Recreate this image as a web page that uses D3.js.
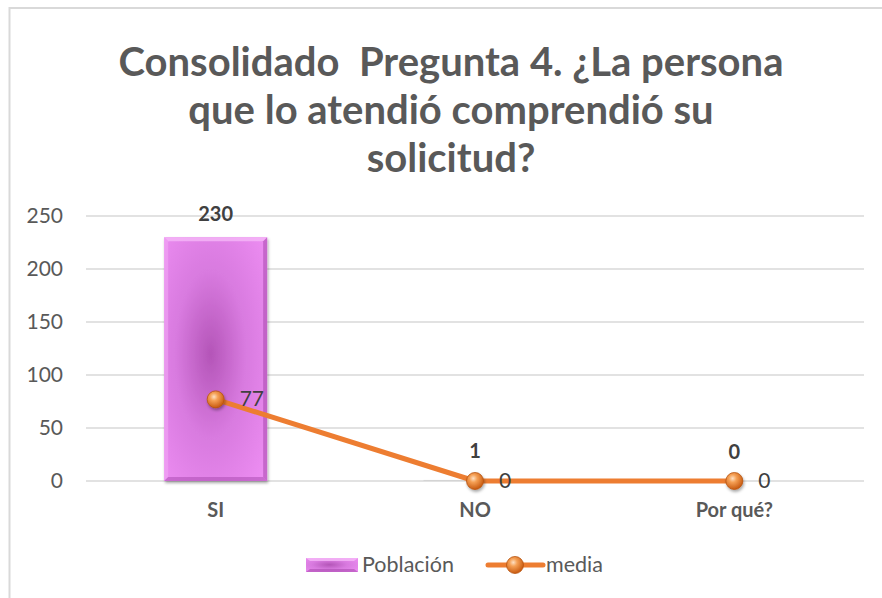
<!DOCTYPE html>
<html><head><meta charset="utf-8">
<script src="https://cdn.jsdelivr.net/npm/d3@7"></script>
<style>html,body{margin:0;padding:0;background:#fff;}svg{display:block;}text{white-space:pre;}</style>
</head><body>
<script>
const categories = ["SI", "NO", "Por qué?"];
const poblacion = [230, 1, 0];
const media = [77, 0, 0];
const yTicks = [0, 50, 100, 150, 200, 250];
const titleLines = ["Consolidado  Pregunta 4. ¿La persona", "que lo atendió comprendió su", "solicitud?"];
const seriesNames = ["Población", "media"];

const W = 882, H = 598;
const svg = d3.select("body").append("svg").attr("width", W).attr("height", H);
const defs = svg.append("defs");
const FONT = "Lato, 'Open Sans', sans-serif";

const rg = defs.append("radialGradient").attr("id", "barGrad").attr("cx", "45%").attr("cy", "48%").attr("r", "75%");
rg.append("stop").attr("offset", "0%").attr("stop-color", "#b455b8");
rg.append("stop").attr("offset", "45%").attr("stop-color", "#d87adf");
rg.append("stop").attr("offset", "100%").attr("stop-color", "#ef8ff4");

const mg = defs.append("radialGradient").attr("id", "markGrad").attr("cx", "40%").attr("cy", "35%").attr("r", "65%");
mg.append("stop").attr("offset", "0%").attr("stop-color", "#fde0c4");
mg.append("stop").attr("offset", "35%").attr("stop-color", "#f5a055");
mg.append("stop").attr("offset", "100%").attr("stop-color", "#c85a10");

const sh = defs.append("filter").attr("id", "shadow").attr("x", "-50%").attr("y", "-50%").attr("width", "200%").attr("height", "200%");
sh.append("feDropShadow").attr("dx", 1).attr("dy", 2).attr("stdDeviation", 1.5).attr("flood-color", "#000").attr("flood-opacity", 0.35);

// chart frame
svg.append("rect").attr("x", 9.5).attr("y", 8).attr("width", 900).attr("height", 620)
  .attr("fill", "none").attr("stroke", "#d9d9d9").attr("stroke-width", 2);

// title
const title = svg.append("text").attr("text-anchor", "middle")
  .attr("font-family", FONT).attr("font-weight", "bold")
  .attr("font-size", 40).attr("fill", "#595959");
titleLines.forEach((t, i) => {
  title.append("tspan").attr("x", 451).attr("y", 76 + i * 48).text(t);
});

const plot = {left: 86, right: 864, top: 216, bottom: 481};
const x = d3.scaleBand().domain(categories).range([plot.left, plot.right]);
const y = d3.scaleLinear().domain([0, 250]).range([plot.bottom, plot.top]);

// gridlines
svg.append("g").selectAll("line").data(yTicks).join("line")
  .attr("x1", plot.left).attr("x2", plot.right)
  .attr("y1", d => y(d)).attr("y2", d => y(d))
  .attr("stroke", "#d9d9d9").attr("stroke-width", 1.3);

// y axis
const yAxis = svg.append("g").attr("transform", `translate(${plot.left},0)`)
  .call(d3.axisLeft(y).tickValues(yTicks).tickSize(0).tickPadding(23));
yAxis.select(".domain").remove();
yAxis.selectAll("text").attr("font-family", FONT).attr("font-size", 21).attr("fill", "#595959");

// x axis
const xAxis = svg.append("g").attr("transform", `translate(0,${plot.bottom})`)
  .call(d3.axisBottom(x).tickSize(0).tickPadding(22));
xAxis.select(".domain").remove();
xAxis.selectAll("text").attr("font-family", FONT).attr("font-weight", "bold").attr("font-size", 20).attr("fill", "#595959");

// bars
const barW = 103;
const bars = svg.append("g");
categories.forEach((c, i) => {
  const v = poblacion[i];
  const bx = x(c) + x.bandwidth() / 2 - barW / 2;
  const by = y(v), bh = y(0) - y(v);
  if (bh > 0) {
    if (bh > 8) {
      bars.append("rect").attr("x", bx).attr("y", by).attr("width", barW).attr("height", bh)
        .attr("fill", "url(#barGrad)").attr("filter", "url(#shadow)");
      const b = 4;
      bars.append("path").attr("d", `M${bx},${by}L${bx+barW},${by}L${bx+barW-b},${by+b}L${bx+b},${by+b}Z`).attr("fill", "#f5b8f8").attr("opacity", 0.8);
      bars.append("path").attr("d", `M${bx},${by}L${bx+b},${by+b}L${bx+b},${by+bh-b}L${bx},${by+bh}Z`).attr("fill", "#f2a6f5").attr("opacity", 0.6);
      bars.append("path").attr("d", `M${bx+barW},${by}L${bx+barW-b},${by+b}L${bx+barW-b},${by+bh-b}L${bx+barW},${by+bh}Z`).attr("fill", "#9a3a9e").attr("opacity", 0.45);
      bars.append("path").attr("d", `M${bx},${by+bh}L${bx+b},${by+bh-b}L${bx+barW-b},${by+bh-b}L${bx+barW},${by+bh}Z`).attr("fill", "#a040a6").attr("opacity", 0.45);
    } else {
      bars.append("rect").attr("x", bx).attr("y", by).attr("width", barW).attr("height", bh)
        .attr("fill", "#cfcfcf").attr("opacity", 0.7);
    }
  }
  svg.append("text").attr("x", x(c) + x.bandwidth() / 2).attr("y", y(v) - (bh > 8 ? 16 : 22))
    .attr("text-anchor", "middle").attr("font-family", FONT)
    .attr("font-weight", "bold").attr("font-size", 20).attr("fill", "#404040").text(v);
});

// line
const cx = c => x(c) + x.bandwidth() / 2;
const lineData = categories.map((c, i) => [cx(c), y(media[i])]);
svg.append("path").attr("d", d3.line()(lineData)).attr("fill", "none")
  .attr("stroke", "#ed7d31").attr("stroke-width", 5).attr("stroke-linejoin", "round");

categories.forEach((c, i) => {
  svg.append("circle").attr("cx", cx(c)).attr("cy", y(media[i])).attr("r", 8.5)
    .attr("fill", "url(#markGrad)").attr("stroke", "#b85410").attr("stroke-width", 0.8).attr("filter", "url(#shadow)");
  svg.append("text").attr("x", cx(c) + 24).attr("y", y(media[i]) + 7)
    .attr("font-family", FONT).attr("font-size", 21).attr("fill", "#404040").text(media[i]);
});

// legend
const lg = svg.append("g");
lg.append("rect").attr("x", 306).attr("y", 558).attr("width", 52).attr("height", 14).attr("fill", "url(#barGrad)");
lg.append("path").attr("d", "M306,558L358,558L354,561L310,561Z").attr("fill", "#f5b8f8").attr("opacity", 0.8);
lg.append("path").attr("d", "M306,572L358,572L354,569L310,569Z").attr("fill", "#a040a6").attr("opacity", 0.5);
lg.append("text").attr("x", 362).attr("y", 572).attr("font-family", FONT)
  .attr("font-size", 21.5).attr("fill", "#595959").text(seriesNames[0]);
lg.append("line").attr("x1", 488).attr("x2", 543).attr("y1", 565).attr("y2", 565).attr("stroke", "#ed7d31").attr("stroke-width", 5).attr("stroke-linecap", "round");
lg.append("circle").attr("cx", 515).attr("cy", 565).attr("r", 8.5).attr("fill", "url(#markGrad)").attr("stroke", "#b85410").attr("stroke-width", 0.8);
lg.append("text").attr("x", 546).attr("y", 572).attr("font-family", FONT)
  .attr("font-size", 21.5).attr("fill", "#595959").text(seriesNames[1]);
</script>
</body></html>
